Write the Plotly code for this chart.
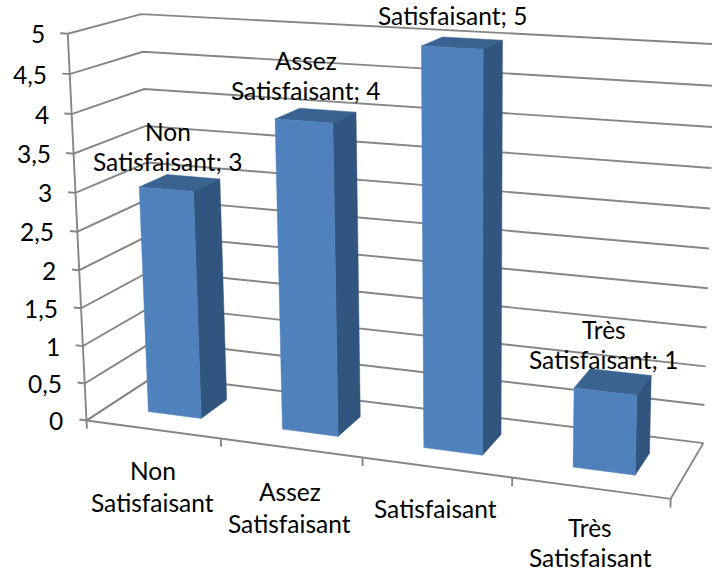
import numpy as np
import plotly.graph_objects as go

categories = ["Non<br>Satisfaisant", "Assez<br>Satisfaisant", "Satisfaisant", "Très<br>Satisfaisant"]
values = [3, 4, 5, 1]
data_labels = ["Non<br>Satisfaisant; 3", "Assez<br>Satisfaisant; 4", "Satisfaisant; 5", "Très<br>Satisfaisant; 1"]
z_ticks = [0, 0.5, 1, 1.5, 2, 2.5, 3, 3.5, 4, 4.5, 5]
z_tick_labels = ["0", "0,5", "1", "1,5", "2", "2,5", "3", "3,5", "4", "4,5", "5"]

# Camera calibration: box corners (category, depth, value) and where they appear on the page.
box_corners = [(0, 0, 0), (4, 0, 0), (4, 1, 0), (0, 1, 0), (0, 0, 5), (0, 1, 5), (4, 1, 5)]
page_corners = [(86, 421), (671, 498), (703, 444), (156, 375), (68, 34), (141, 14), (715, 44)]

A = []
for (X, Y, Z), (u, v) in zip(box_corners, page_corners):
    A.append([X, Y, Z, 1, 0, 0, 0, 0, -u * X, -u * Y, -u * Z, -u])
    A.append([0, 0, 0, 0, X, Y, Z, 1, -v * X, -v * Y, -v * Z, -v])
P = np.linalg.svd(np.array(A, float))[2][-1].reshape(3, 4)


def project(X, Y, Z):
    h = P @ np.array([X, Y, Z, 1.0])
    return h[0] / h[2], h[1] / h[2]


fig = go.Figure()
GRID = "#868686"


def polyline(points, width=1.9):
    uv = [project(*p) for p in points]
    fig.add_trace(go.Scatter(x=[a for a, _ in uv], y=[b for _, b in uv], mode="lines",
                             line=dict(color=GRID, width=width), hoverinfo="skip", showlegend=False))


def face(points, color):
    uv = [project(*p) for p in points]
    fig.add_trace(go.Scatter(x=[a for a, _ in uv], y=[b for _, b in uv], mode="lines", fill="toself",
                             fillcolor=color, line=dict(color=color, width=0.5),
                             hoverinfo="skip", showlegend=False))


nx = len(categories)
zmax = z_ticks[-1]
for z in z_ticks:
    polyline([(-0.055, 0, z), (0, 0, z), (0, 1, z), (nx, 1, z)])
polyline([(0, 0, 0), (0, 0, zmax)])
polyline([(0, 1, 0), (0, 0, 0), (nx, 0, 0), (nx, 1, 0)])
for i in range(nx + 1):
    polyline([(i, 0, 0), (i, 0, -0.11)])

BAR = 0.2
CENTER = 0.51
D0, D1 = 0.3, 0.7
for i, v in enumerate(values):
    x0, x1 = i + CENTER - BAR, i + CENTER + BAR
    face([(x0, D0, v), (x1, D0, v), (x1, D1, v), (x0, D1, v), (x0, D0, v)], "#3A6392")
    face([(x1, D0, 0), (x1, D1, 0), (x1, D1, v), (x1, D0, v), (x1, D0, 0)], "#31557F")
    face([(x0, D0, 0), (x1, D0, 0), (x1, D0, v), (x0, D0, v), (x0, D0, 0)], "#4F81BD")

FONT = dict(family="Lato, Carlito, sans-serif", size=24.5, color="#000000")
annotations = []


def text_block(text, x, y, anchor="center", line=30):
    lines = text.split("<br>")
    for k, t in enumerate(lines):
        annotations.append(dict(x=x, y=y + (k - (len(lines) - 1) / 2) * line, text=t, xref="x", yref="y",
                                showarrow=False, xanchor=anchor, yanchor="middle", font=FONT))


for z, lab in zip(z_ticks, z_tick_labels):
    u, v = project(0, 0, z)
    text_block(lab, u - 21, v, "right")

for i, (c, d, v) in enumerate(zip(categories, data_labels, values)):
    u, w = project(i + 0.5, 0, 0)
    text_block(c, u + [0, -1, -1, 0][i], w + [57.5, 59.5, 41, 54][i], line=[32, 32, 32, 30][i])
    u, w = project(i + 0.5, 0.5, v)
    text_block(d, u + [-11, -9, -8, -8][i], w + [-36.5, -40, -27, -37][i])

fig.update_layout(
    width=712, height=573, autosize=False, margin=dict(l=0, r=0, t=0, b=0),
    paper_bgcolor="white", plot_bgcolor="white", showlegend=False,
    xaxis=dict(range=[0, 712], visible=False, fixedrange=True),
    yaxis=dict(range=[573, 0], visible=False, fixedrange=True),
    annotations=annotations,
)
fig.write_html("out.html", config=dict(displayModeBar=False),
               post_script="document.body.style.margin='0';document.documentElement.style.overflow='hidden';")
